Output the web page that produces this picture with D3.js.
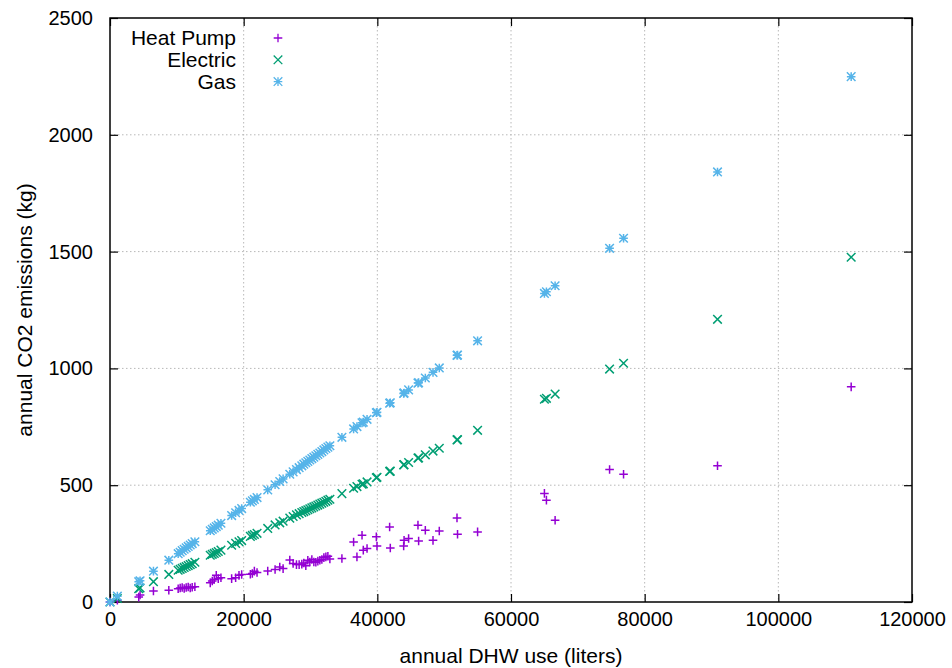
<!DOCTYPE html>
<html>
<head>
<meta charset="utf-8">
<script src="https://cdn.jsdelivr.net/npm/d3@7"></script>
<style>
  html, body { margin: 0; padding: 0; background: #fff; }
  svg { display: block; font-family: "Liberation Sans", Arial, Helvetica, sans-serif; }
</style>
</head>
<body>
<svg id="chart" width="952" height="668"></svg>
<script>
// Annual domestic hot water use per household (liters)
const dhwUse = [
  0, 1100, 4300, 4500, 6500, 8800, 10200, 10500, 10800, 11100, 11400, 11700, 12000, 12300, 12700,
  15000, 15300, 15600, 15900, 16200, 16600, 18200, 18800, 19300, 19700, 21000, 21300, 21600, 22000,
  23600, 24700, 25400, 25900, 26900, 27400, 27900, 28300, 28700, 29000, 29300, 29600, 29900, 30200,
  30500, 30800, 31100, 31400, 31700, 32000, 32300, 32600, 32900, 34700, 36450, 36950, 37710, 37900,
  38460, 39850, 39950, 41840, 41940, 43940, 44000, 44680, 46080, 46180, 47180, 48330, 49270, 51920,
  52000, 55000, 65000, 65300, 66600, 74750, 76840, 90900, 110900
];

// Annual CO2 emissions (kg) for each heater type, same order as dhwUse
const heatPump = [
  0, 8, 21, 30, 47, 50, 57, 60, 62, 58, 62, 64, 60, 63, 65,
  82, 90, 96, 114, 100, 104, 100, 104, 114, 118, 119, 122, 132, 126,
  133, 139, 150, 143, 180, 165, 160, 160, 162, 167, 155, 179, 171, 182,
  171, 170, 175, 179, 182, 190, 193, 196, 184, 186, 257, 193, 286, 222,
  229, 279, 240, 321, 231, 240, 264, 272, 329, 261, 307, 264, 304, 360,
  290, 300, 465, 436, 350, 567, 547, 583, 921
];

const electric = [
  0, 15, 57, 60, 87, 118, 136, 140, 144, 148, 152, 156, 160, 164, 170,
  200, 204, 208, 212, 216, 222, 243, 251, 258, 263, 281, 285, 289, 294,
  315, 330, 339, 346, 359, 366, 373, 378, 383, 387, 391, 395, 399, 403,
  407, 411, 415, 419, 423, 427, 431, 436, 440, 464, 487, 494, 504, 506,
  514, 532, 534, 559, 560, 587, 588, 597, 616, 617, 630, 646, 658, 694,
  695, 735, 868, 872, 890, 997, 1022, 1210, 1476
];

const gas = [
  0, 25, 87, 91, 132, 179, 207, 213, 220, 226, 232, 238, 244, 250, 258,
  305, 311, 317, 323, 329, 337, 370, 382, 392, 400, 427, 433, 439, 447,
  480, 502, 516, 527, 547, 557, 567, 575, 583, 590, 596, 602, 608, 614,
  620, 626, 632, 638, 644, 651, 657, 663, 669, 705, 741, 751, 767, 770,
  782, 810, 812, 851, 853, 893, 895, 908, 937, 939, 959, 983, 1002, 1056,
  1057, 1118, 1321, 1328, 1354, 1514, 1557, 1841, 2249
];

const seriesNames = ["Heat Pump", "Electric", "Gas"];
const xTicks = [0, 20000, 40000, 60000, 80000, 100000, 120000];
const yTicks = [0, 500, 1000, 1500, 2000, 2500];
const xTitle = "annual DHW use (liters)";
const yTitle = "annual CO2 emissions (kg)";

const colors = ["#9400d3", "#009e73", "#56b4e9"];
const R = 4.3;
const glyphs = {
  plus: `M${-R},0H${R}M0,${-R}V${R}`,
  cross: `M${-R},${-R}L${R},${R}M${-R},${R}L${R},${-R}`,
  star: `M${-R},0H${R}M0,${-R}V${R}M${-R},${-R}L${R},${R}M${-R},${R}L${R},${-R}`
};
const seriesGlyph = ["plus", "cross", "star"];
const markStroke = 1.5;

const svg = d3.select("#chart");
const plotLeft = 110, plotRight = 912, plotTop = 18, plotBottom = 602;

const x = d3.scaleLinear().domain([0, 120000]).range([plotLeft, plotRight]);
const y = d3.scaleLinear().domain([0, 2500]).range([plotBottom, plotTop]);

// dotted grid
const grid = svg.append("g").attr("stroke", "#b8b8b8").attr("stroke-width", 1)
  .attr("stroke-dasharray", "1.5,2.5");
grid.selectAll(".gx").data(xTicks.filter(d => d > 0 && d < 120000)).join("line")
  .attr("x1", d => x(d)).attr("x2", d => x(d)).attr("y1", plotTop).attr("y2", plotBottom);
grid.selectAll(".gy").data(yTicks.filter(d => d > 0 && d < 2500)).join("line")
  .attr("y1", d => y(d)).attr("y2", d => y(d)).attr("x1", plotLeft).attr("x2", plotRight);

// axes with inward ticks, mirrored on top and right
const tickFont = 20;
const gx = svg.append("g").attr("transform", `translate(0,${plotBottom})`)
  .call(d3.axisBottom(x).tickValues(xTicks).tickFormat(d3.format("d")).tickSize(-8).tickPadding(10));
const gy = svg.append("g").attr("transform", `translate(${plotLeft},0)`)
  .call(d3.axisLeft(y).tickValues(yTicks).tickFormat(d3.format("d")).tickSize(-8).tickPadding(17));
const gt = svg.append("g").attr("transform", `translate(0,${plotTop})`)
  .call(d3.axisTop(x).tickValues(xTicks).tickFormat("").tickSize(-8));
const gr = svg.append("g").attr("transform", `translate(${plotRight},0)`)
  .call(d3.axisRight(y).tickValues(yTicks).tickFormat("").tickSize(-8));
[gx, gy, gt, gr].forEach(g => {
  g.select(".domain").remove();
  g.selectAll(".tick line").attr("stroke", "#000").attr("stroke-width", 1.2);
  g.selectAll(".tick text").attr("fill", "#000").style("font-size", tickFont + "px")
    .style("font-family", "'Liberation Sans', Arial, sans-serif");
});

// border
svg.append("rect").attr("x", plotLeft).attr("y", plotTop)
  .attr("width", plotRight - plotLeft).attr("height", plotBottom - plotTop)
  .attr("fill", "none").attr("stroke", "#000").attr("stroke-width", 1.5);

// points
const allSeries = [heatPump, electric, gas];
allSeries.forEach((vals, i) => {
  svg.append("g").attr("fill", "none").attr("stroke", colors[i]).attr("stroke-width", markStroke)
    .selectAll("path").data(vals.map((v, j) => [dhwUse[j], v])).join("path")
    .attr("transform", d => `translate(${x(d[0])},${y(d[1])})`)
    .attr("d", glyphs[seriesGlyph[i]]);
});

// legend
const legend = svg.append("g");
seriesNames.forEach((name, i) => {
  const ly = 38 + i * 21.8;
  legend.append("text").attr("x", 236).attr("y", ly).attr("dy", "0.35em")
    .attr("text-anchor", "end").style("font-size", "21px").attr("fill", "#000").text(name);
  legend.append("path").attr("transform", `translate(278,${ly})`)
    .attr("d", glyphs[seriesGlyph[i]]).attr("fill", "none")
    .attr("stroke", colors[i]).attr("stroke-width", 1.3);
});

// axis titles
svg.append("text").attr("x", (plotLeft + plotRight) / 2).attr("y", 656).attr("dy", "0.35em")
  .attr("text-anchor", "middle").style("font-size", "21px").attr("fill", "#000").text(xTitle);
svg.append("text").attr("transform", `translate(25,${(plotTop + plotBottom) / 2}) rotate(-90)`)
  .attr("dy", "0.35em").attr("text-anchor", "middle").style("font-size", "21px")
  .attr("fill", "#000").text(yTitle);
</script>
</body>
</html>
